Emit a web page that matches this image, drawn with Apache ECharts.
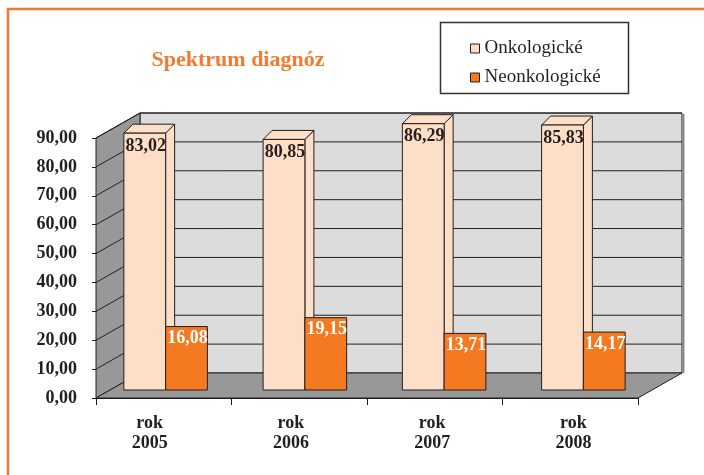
<!DOCTYPE html>
<html>
<head>
<meta charset="utf-8">
<script src="https://cdn.jsdelivr.net/npm/echarts@6/dist/echarts.min.js"></script>
<style>
  html, body { margin: 0; padding: 0; background: #fff; }
  #main { width: 704px; height: 475px; }
</style>
</head>
<body>
<div id="main"></div>
<script>
// --- data ---
const years = ['2005', '2006', '2007', '2008'];
const yearLabels = ['rok\n2005', 'rok\n2006', 'rok\n2007', 'rok\n2008'];
const onkologicke = [83.02, 80.85, 86.29, 85.83];
const neonkologicke = [16.08, 19.15, 13.71, 14.17];
const gridValues = [10, 20, 30, 40, 50, 60, 70, 80, 90];

// 3D look
const DX = 44, DY = -25;      // depth of walls
const BDX = 9, BDY = -9;      // depth of bar boxes
const BASE_DROP = 17;         // bars stand a bit in front of the back wall
const FONT = '"Liberation Serif", "Times New Roman", serif';
const INK = '#231F20';
const PEACH = '#FDDEC6';
const ORANGE = '#F47920';

const fmt = v => v.toFixed(2).replace('.', ',');

const chart = echarts.init(document.getElementById('main'));

function renderWalls(params, api) {
    const cs = params.coordSys;
    const x0 = cs.x, x1 = cs.x + cs.width;
    const yb = api.coord([0, 0])[1];
    const yt = api.coord([0, 90])[1];
    const line = { stroke: INK, lineWidth: 1 };
    const children = [
        { type: 'polygon', shape: { points: [[x0 + DX, yt + DY], [x1 + DX, yt + DY], [x1 + DX, yb + DY], [x0 + DX, yb + DY]] },
          style: { fill: '#DCDCDC', stroke: INK, lineWidth: 1 } },
        { type: 'line', shape: { x1: x1 + DX + 1.5, y1: yt + DY + 1, x2: x1 + DX + 1.5, y2: yb + DY }, style: { stroke: '#8a8a8a', lineWidth: 2 } },
        { type: 'polygon', shape: { points: [[x0, yb], [x0, yt], [x0 + DX, yt + DY], [x0 + DX, yb + DY]] },
          style: { fill: '#989898', stroke: INK, lineWidth: 1 } },
        { type: 'polygon', shape: { points: [[x0, yb], [x1, yb], [x1 + DX, yb + DY], [x0 + DX, yb + DY]] },
          style: { fill: '#989898', stroke: INK, lineWidth: 1 } }
    ];
    gridValues.forEach(v => {
        const y = api.coord([0, v])[1];
        children.push({ type: 'polyline', shape: { points: [[x0, y], [x0 + DX, y + DY], [x1 + DX, y + DY]] }, style: Object.assign({ fill: null }, line) });
    });
    return { type: 'group', children: children };
}

function barGeom(api) {
    const top = api.coord([api.value(0), api.value(1)]);
    const base = api.coord([api.value(0), 0]);
    const w = api.size([1, 0])[0] * 0.3;
    return { cx: top[0], yT: top[1], yB: base[1] + BASE_DROP, w: w };
}

function renderOnko(params, api) {
    const g = barGeom(api);
    const xL = g.cx - g.w, xR = g.cx;
    const st = { fill: PEACH, stroke: INK, lineWidth: 1 };
    return { type: 'group', children: [
        { type: 'polygon', shape: { points: [[xR, g.yT], [xR + BDX, g.yT + BDY], [xR + BDX, g.yB + BDY], [xR, g.yB]] }, style: st },
        { type: 'polygon', shape: { points: [[xL, g.yT], [xL + BDX, g.yT + BDY], [xR + BDX, g.yT + BDY], [xR, g.yT]] }, style: st },
        { type: 'rect', shape: { x: xL, y: g.yT, width: g.w, height: g.yB - g.yT }, style: st },
        { type: 'text', style: { text: fmt(api.value(1)), x: xL + g.w / 2 + 1, y: g.yT + 13,
            textAlign: 'center', textVerticalAlign: 'middle', align: 'center', verticalAlign: 'middle',
            font: 'bold 18px ' + FONT, fill: INK } }
    ] };
}

function renderNeonko(params, api) {
    const g = barGeom(api);
    const xL = g.cx, xR = g.cx + g.w;
    return { type: 'group', children: [
        { type: 'rect', shape: { x: xL, y: g.yT, width: g.w, height: g.yB - g.yT }, style: { fill: ORANGE, stroke: INK, lineWidth: 1 } },
        { type: 'text', style: { text: fmt(api.value(1)), x: xL + g.w / 2 + 1, y: g.yT + 12,
            textAlign: 'center', textVerticalAlign: 'middle', align: 'center', verticalAlign: 'middle',
            font: 'bold 18px ' + FONT, fill: '#ffffff' } }
    ] };
}

const option = {
    animation: false,
    backgroundColor: '#ffffff',
    title: {
        text: 'Spektrum diagnóz',
        left: 233, top: 44, textAlign: 'center',
        textStyle: { color: '#F47A30', fontFamily: FONT, fontWeight: 'bold', fontSize: 22 }
    },
    legend: {
        data: ['Onkologické', 'Neonkologické'],
        orient: 'vertical',
        left: 465, top: 34,
        itemWidth: 9, itemHeight: 9, itemGap: 10,
        icon: 'rect',
        itemStyle: { borderColor: INK, borderWidth: 1 },
        textStyle: { fontFamily: FONT, fontSize: 19, color: INK }
    },
    graphic: [
        { type: 'rect', z: 0, shape: { x: 440.5, y: 22.5, width: 188, height: 71 }, style: { fill: '#fff', stroke: '#333', lineWidth: 1.5 } },
        { type: 'polyline', z: 0, shape: { points: [[8, 475], [8, 9], [704, 9]] }, style: { fill: null, stroke: '#F47A30', lineWidth: 2.5 } }
    ],
    grid: [
        { left: 96, right: 66, top: 138, bottom: 77 },   // front plane: axes, walls
        { left: 96, right: 51, top: 113, bottom: 102 },  // bars
        { left: 79, right: 60, top: 138, bottom: 77 }    // category labels
    ],
    xAxis: [
        { type: 'category', gridIndex: 0, data: years,
          axisLine: { lineStyle: { color: INK, width: 1 } },
          axisTick: { show: true, length: 7, lineStyle: { color: INK } },
          axisLabel: { show: false } },
        { type: 'category', gridIndex: 1, data: years, show: false },
        { type: 'category', gridIndex: 2, data: yearLabels,
          axisLine: { show: false }, axisTick: { show: false },
          axisLabel: { margin: 15, fontFamily: FONT, fontWeight: 'bold', fontSize: 18, lineHeight: 20, color: INK } }
    ],
    yAxis: [
        { type: 'value', gridIndex: 0, min: 0, max: 90, interval: 10,
          axisLine: { show: true, lineStyle: { color: INK } },
          axisTick: { show: true, length: 4, lineStyle: { color: INK } },
          splitLine: { show: false },
          axisLabel: { margin: 19, formatter: fmt, fontFamily: FONT, fontWeight: 'bold', fontSize: 18, color: INK } },
        { type: 'value', gridIndex: 1, min: 0, max: 90, show: false },
        { type: 'value', gridIndex: 2, min: 0, max: 90, show: false }
    ],
    series: [
        { type: 'custom', name: 'walls', xAxisIndex: 0, yAxisIndex: 0, z: 1, silent: true,
          renderItem: renderWalls, data: [[0, 0]] },
        { type: 'custom', name: 'Onkologické', xAxisIndex: 1, yAxisIndex: 1, z: 3,
          itemStyle: { color: PEACH },
          renderItem: renderOnko, encode: { x: 0, y: 1 },
          data: onkologicke.map((v, i) => [i, v]) },
        { type: 'custom', name: 'Neonkologické', xAxisIndex: 1, yAxisIndex: 1, z: 4,
          itemStyle: { color: ORANGE },
          renderItem: renderNeonko, encode: { x: 0, y: 1 },
          data: neonkologicke.map((v, i) => [i, v]) }
    ]
};

chart.setOption(option);
</script>
</body>
</html>
